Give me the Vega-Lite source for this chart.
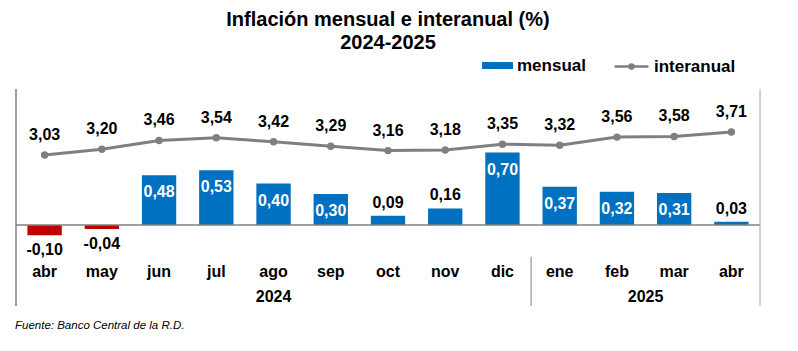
{
  "$schema": "https://vega.github.io/schema/vega-lite/v6.json",
  "width": 744,
  "height": 217,
  "autosize": {"type": "none"},
  "padding": {"left": 16, "top": 89, "right": 38, "bottom": 45},
  "background": "white",
  "config": {
    "view": {"stroke": null},
    "font": "Liberation Sans",
    "locale": {"number": {"decimal": ",", "thousands": ".", "grouping": [3], "currency": ["", ""], "minus": "-"}}
  },
  "title": {
    "text": ["Inflación mensual e interanual (%)", "2024-2025"],
    "font": "Liberation Sans",
    "fontSize": 20,
    "fontWeight": "bold",
    "color": "#000000",
    "anchor": "middle",
    "lineHeight": 23,
    "offset": 37,
    "dy": 42
  },
  "data": {
    "values": [
      {"key": "2024-04", "mes": "abr", "mensual": -0.10, "interanual": 3.03},
      {"key": "2024-05", "mes": "may", "mensual": -0.04, "interanual": 3.20},
      {"key": "2024-06", "mes": "jun", "mensual": 0.48, "interanual": 3.46},
      {"key": "2024-07", "mes": "jul", "mensual": 0.53, "interanual": 3.54},
      {"key": "2024-08", "mes": "ago", "mensual": 0.40, "interanual": 3.42},
      {"key": "2024-09", "mes": "sep", "mensual": 0.30, "interanual": 3.29},
      {"key": "2024-10", "mes": "oct", "mensual": 0.09, "interanual": 3.16},
      {"key": "2024-11", "mes": "nov", "mensual": 0.16, "interanual": 3.18},
      {"key": "2024-12", "mes": "dic", "mensual": 0.70, "interanual": 3.35},
      {"key": "2025-01", "mes": "ene", "mensual": 0.37, "interanual": 3.32},
      {"key": "2025-02", "mes": "feb", "mensual": 0.32, "interanual": 3.56},
      {"key": "2025-03", "mes": "mar", "mensual": 0.31, "interanual": 3.58},
      {"key": "2025-04", "mes": "abr", "mensual": 0.03, "interanual": 3.71}
    ]
  },
  "layer": [
    {
      "layer": [
        {
          "mark": {"type": "bar", "width": {"band": 0.6}},
          "encoding": {
            "x": {
              "field": "key", "type": "nominal", "sort": null, "axis": null,
              "scale": {
                "domain": ["2024-04","2024-05","2024-06","2024-07","2024-08","2024-09","2024-10","2024-11","2024-12","2025-01","2025-02","2025-03","2025-04"],
                "paddingInner": 0, "paddingOuter": 0
              }
            },
            "y": {
              "field": "mensual", "type": "quantitative", "axis": null,
              "scale": {"domain": [-0.783, 1.314], "nice": false, "zero": false}
            },
            "color": {
              "condition": {"test": "datum.mensual < 0", "value": "#c00000"},
              "datum": "mensual", "type": "nominal",
              "scale": {"domain": ["mensual"], "range": ["#0070c0"]},
              "legend": {
                "orient": "none", "legendX": 466, "legendY": -39, "title": null, "padding": 0,
                "symbolType": "M-1,-0.226H1V0.226H-1Z", "symbolSize": 961, "symbolStrokeWidth": 0,
                "symbolOpacity": 1,
                "labelFont": "Liberation Sans", "labelFontSize": 17, "labelFontWeight": "bold",
                "labelColor": "#000000", "labelOffset": 4
              }
            }
          }
        },
        {
          "data": {"values": [{}]},
          "mark": {"type": "rule", "color": "#808080", "strokeWidth": 1.5},
          "encoding": {"y": {"datum": 0, "type": "quantitative", "axis": null}}
        },
        {
          "data": {"values": [{}]},
          "mark": {"type": "rule", "color": "#808080", "strokeWidth": 1.5},
          "encoding": {"x": {"datum": "2024-04", "type": "nominal", "bandPosition": 0, "axis": null}}
        },
        {
          "data": {"values": [{}]},
          "mark": {"type": "rule", "color": "#a6a6a6", "strokeWidth": 1},
          "encoding": {"x": {"datum": "2025-04", "type": "nominal", "bandPosition": 1, "axis": null}}
        },
        {
          "transform": [{"filter": "datum.mensual >= 0.25"}],
          "mark": {"type": "text", "dy": 17, "baseline": "middle", "font": "Liberation Sans", "fontSize": 16, "fontWeight": "bold", "color": "#ffffff"},
          "encoding": {
            "x": {"field": "key", "type": "nominal", "sort": null, "axis": null},
            "y": {"field": "mensual", "type": "quantitative", "axis": null},
            "text": {"field": "mensual", "type": "quantitative", "format": ".2f"}
          }
        },
        {
          "transform": [{"filter": "datum.mensual >= 0 && datum.mensual < 0.25"}],
          "mark": {"type": "text", "dy": -13, "baseline": "middle", "font": "Liberation Sans", "fontSize": 16, "fontWeight": "bold", "color": "#000000"},
          "encoding": {
            "x": {"field": "key", "type": "nominal", "sort": null, "axis": null},
            "y": {"field": "mensual", "type": "quantitative", "axis": null},
            "text": {"field": "mensual", "type": "quantitative", "format": ".2f"}
          }
        },
        {
          "transform": [{"filter": "datum.mensual < 0"}],
          "mark": {"type": "text", "dy": 15, "baseline": "middle", "font": "Liberation Sans", "fontSize": 16, "fontWeight": "bold", "color": "#000000"},
          "encoding": {
            "x": {"field": "key", "type": "nominal", "sort": null, "axis": null},
            "y": {"field": "mensual", "type": "quantitative", "axis": null},
            "text": {"field": "mensual", "type": "quantitative", "format": ".2f"}
          }
        },
        {
          "mark": {"type": "text", "baseline": "middle", "font": "Liberation Sans", "fontSize": 16, "fontWeight": "bold", "color": "#000000"},
          "encoding": {
            "x": {"field": "key", "type": "nominal", "sort": null, "axis": null},
            "y": {"datum": -0.451, "type": "quantitative", "axis": null},
            "text": {"field": "mes", "type": "nominal"}
          }
        },
        {
          "data": {"values": [{}]},
          "mark": {"type": "text", "baseline": "middle", "font": "Liberation Sans", "fontSize": 16, "fontWeight": "bold", "color": "#000000"},
          "encoding": {
            "x": {"datum": "2024-08", "type": "nominal", "bandPosition": 0.5, "axis": null},
            "y": {"datum": -0.692, "type": "quantitative", "axis": null},
            "text": {"value": "2024"}
          }
        },
        {
          "data": {"values": [{}]},
          "mark": {"type": "text", "baseline": "middle", "font": "Liberation Sans", "fontSize": 16, "fontWeight": "bold", "color": "#000000"},
          "encoding": {
            "x": {"datum": "2025-03", "type": "nominal", "bandPosition": 0, "axis": null},
            "y": {"datum": -0.692, "type": "quantitative", "axis": null},
            "text": {"value": "2025"}
          }
        },
        {
          "data": {"values": [{}]},
          "mark": {"type": "rule", "color": "#808080", "strokeWidth": 1},
          "encoding": {
            "x": {"datum": "2025-01", "type": "nominal", "bandPosition": 0, "axis": null},
            "y": {"datum": -0.306, "type": "quantitative", "axis": null},
            "y2": {"datum": -0.783}
          }
        },
        {
          "data": {"values": [{}]},
          "mark": {"type": "text", "align": "left", "baseline": "middle", "dx": -1, "font": "Liberation Sans", "fontSize": 11.5, "fontStyle": "italic", "color": "#000000"},
          "encoding": {
            "x": {"datum": "2024-04", "type": "nominal", "bandPosition": 0, "axis": null},
            "y": {"datum": -0.976, "type": "quantitative", "axis": null},
            "text": {"value": "Fuente: Banco Central de la R.D."}
          }
        }
      ]
    },
    {
      "layer": [
        {
          "mark": {"type": "line", "strokeWidth": 3, "point": {"filled": true, "size": 55}},
          "encoding": {
            "x": {"field": "key", "type": "nominal", "sort": null, "axis": null},
            "y": {
              "field": "interanual", "type": "quantitative", "axis": null,
              "scale": {"domain": [-1.437, 4.983], "nice": false, "zero": false}
            },
            "color": {
              "datum": "interanual", "type": "nominal",
              "scale": {"domain": ["interanual"], "range": ["#7f7f7f"]},
              "legend": {
                "orient": "none", "legendX": 597, "legendY": -41, "title": null, "padding": 0,
                "symbolType": "M-1,0H1M-0.12,0A0.12,0.12,0,1,1,0.12,0A0.12,0.12,0,1,1,-0.12,0Z",
                "symbolSize": 1156, "symbolStrokeWidth": 2.5,
                "symbolFillColor": "#7f7f7f", "symbolStrokeColor": "#7f7f7f", "symbolOpacity": 1,
                "labelFont": "Liberation Sans", "labelFontSize": 17, "labelFontWeight": "bold",
                "labelColor": "#000000", "labelOffset": 4,
                "encode": {"symbols": {"update": {"fill": {"value": "#7f7f7f"}, "stroke": {"value": "#7f7f7f"}}}}
              }
            }
          }
        },
        {
          "mark": {"type": "text", "dy": -20, "baseline": "middle", "font": "Liberation Sans", "fontSize": 16, "fontWeight": "bold", "color": "#000000"},
          "encoding": {
            "x": {"field": "key", "type": "nominal", "sort": null, "axis": null},
            "y": {"field": "interanual", "type": "quantitative", "axis": null},
            "text": {"field": "interanual", "type": "quantitative", "format": ".2f"}
          }
        }
      ]
    }
  ],
  "resolve": {
    "scale": {"y": "independent", "color": "independent"},
    "legend": {"color": "independent"}
  }
}
